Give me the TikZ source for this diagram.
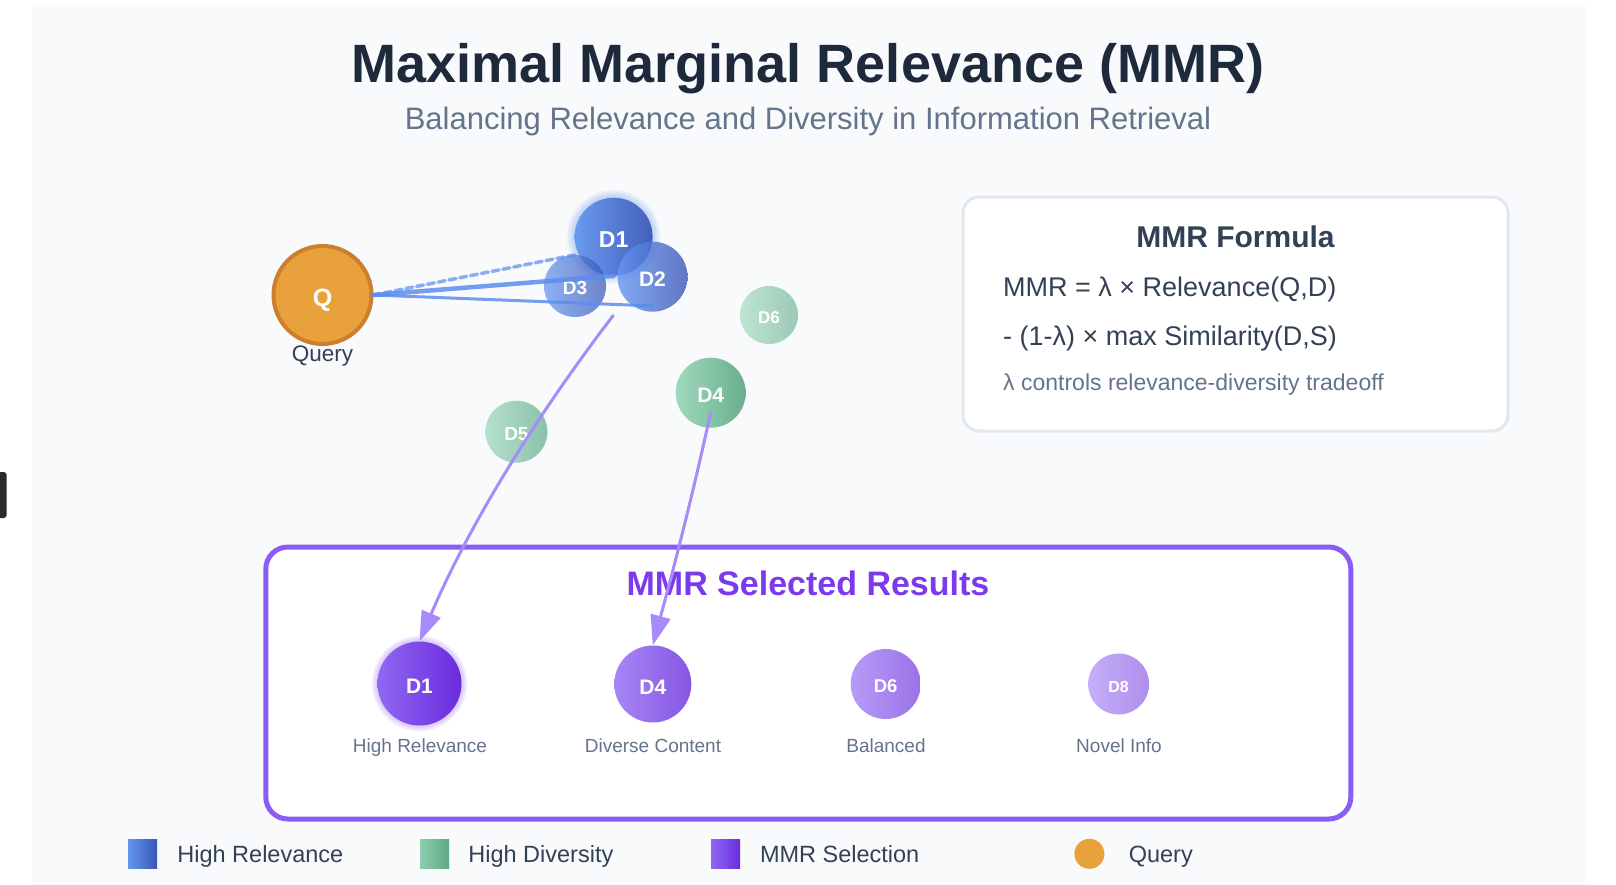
\documentclass[tikz,border=0pt]{standalone}
\usepackage{fontspec}
\setmainfont{Liberation Sans}
\usepackage{tikz}
\usetikzlibrary{arrows.meta,positioning,calc}
\definecolor{panelbg}{HTML}{F8FAFC}
\definecolor{inkdark}{HTML}{1E293B}
\definecolor{inkmid}{HTML}{334155}
\definecolor{inkgray}{HTML}{64748B}
\definecolor{relblueA}{HTML}{6496F0}
\definecolor{relblueB}{HTML}{3A56B8}
\definecolor{divgreenA}{HTML}{9AD6B8}
\definecolor{divgreenB}{HTML}{5DA986}
\definecolor{selpurpleA}{HTML}{9068F4}
\definecolor{selpurpleB}{HTML}{6A2BDC}
\definecolor{queryorange}{HTML}{E9A23B}
\definecolor{queryedge}{HTML}{CC7F2E}
\definecolor{arrowpurple}{HTML}{A78BFA}
\definecolor{boxpurple}{HTML}{8B5CF6}
\definecolor{titlepurple}{HTML}{7C3AED}
\definecolor{linkblue}{HTML}{5B8DEF}
\definecolor{cardedge}{HTML}{E2E8F0}
\definecolor{tabdark}{HTML}{2B2B2B}

\begin{document}
\begin{tikzpicture}[
  x=1pt, y=-1pt,
  doc/.style={circle,inner sep=0pt,text=white,text opacity=1,text height=20pt,text depth=0pt,font=\bfseries\fontsize{21}{24}\selectfont},
  small/.style={text height=17.5pt},
  rel/.style={doc,left color=relblueA,right color=relblueB},
  div/.style={doc,left color=divgreenA,right color=divgreenB},
  sel/.style={doc,left color=selpurpleA,right color=selpurpleB},
  txt/.style={inner sep=0pt,anchor=base},
  fline/.style={txt,anchor=base west,text=inkmid,font=\fontsize{27}{32}\selectfont},
  sellbl/.style={txt,text=inkgray,font=\fontsize{19}{23}\selectfont},
  swatch/.style={rectangle,inner sep=0pt,minimum size=29pt},
  legtext/.style={inner sep=0pt,anchor=west,text depth=0pt,text=inkmid,font=\fontsize{23.5}{28}\selectfont},
  link/.style={linkblue,line cap=round},
  pick/.style={arrowpurple,line width=3pt,-{Triangle[length=30pt,width=20pt]}}
]
\useasboundingbox (0,0) rectangle (1616,884);
\fill[white] (0,0) rectangle (1616,884);
\fill[panelbg] (31.5,4) rectangle (1585,882);
\fill[tabdark,rounded corners=3pt] (-6,472) rectangle (6.7,518);

\node[txt,text=inkdark,font=\bfseries\fontsize{54}{60}\selectfont] (title) at (808,82) {Maximal Marginal Relevance (MMR)};
\node[txt,text=inkgray,font=\fontsize{31}{37}\selectfont] (subtitle) at (808,129) {Balancing Relevance and Diversity in Information Retrieval};

\node[circle,inner sep=0pt,minimum size=98pt,line width=4pt,draw=queryedge,fill=queryorange,text=white,text height=23pt,text depth=0pt,font=\bfseries\fontsize{25}{29}\selectfont] (Q) at (322.5,295) {Q};
\node[inner sep=0pt,text=inkmid,font=\fontsize{22.5}{27}\selectfont,below=0pt of Q] (qlbl) {Query};

\coordinate (d1c) at (613.6,236.7);
\foreach \g in {1,...,8}
  \fill[relblueA,opacity=0.05] (d1c) circle[radius={(39+\g)*1pt}];
\node[rel,minimum size=78pt,fill opacity=0.93,text height=21.5pt,font=\bfseries\fontsize{23}{26}\selectfont] (D1) at (d1c) {D1};
\node[rel,small,minimum size=62pt,fill opacity=0.72,font=\bfseries\fontsize{19}{22}\selectfont] (D3) at (575,286) {D3};
\node[rel,minimum size=70pt,fill opacity=0.8] (D2) at (652.5,276.7) {D2};
\node[div,small,minimum size=58pt,fill opacity=0.6,font=\bfseries\fontsize{17}{20}\selectfont] (D6) at (769,315) {D6};
\node[div,minimum size=70pt,fill opacity=0.92] (D4) at (710.7,392.7) {D4};
\node[div,small,minimum size=62pt,fill opacity=0.7,font=\bfseries\fontsize{19}{22}\selectfont] (D5) at (516.4,431.7) {D5};

\draw[link,line width=4.5pt,opacity=0.85] (Q.east) -- (D1.south);
\draw[link,line width=3pt,opacity=0.85] (Q.east) -- ([yshift=6pt]D2.south);
\draw[link,line width=3.5pt,dash pattern=on 7pt off 4pt,opacity=0.7] (Q.east) -- (D3.north);

\node[draw=cardedge,line width=3pt,fill=white,rounded corners=16pt,minimum width=545pt,minimum height=234pt] (formula) at (1235.5,314) {};
\node[txt,text=inkmid,font=\bfseries\fontsize{30}{36}\selectfont] (ftitle) at (1235.5,247) {MMR Formula};
\node[fline] (f1) at (1003,296) {MMR = λ × Relevance(Q,D)};
\node[fline] (f2) at (1003,345) {- (1-λ) × max Similarity(D,S)};
\node[fline,text=inkgray,font=\fontsize{23}{28}\selectfont] (f3) at (1003,390) {λ controls relevance-diversity tradeoff};

\node[draw=boxpurple,line width=5pt,fill=white,rounded corners=22pt,minimum width=1085pt,minimum height=272pt] (results) at (808.3,683) {};
\node[txt,text=titlepurple,font=\bfseries\fontsize{34}{40}\selectfont] (rtitle) at (808,595) {MMR Selected Results};

\coordinate (s1c) at (419.5,683.5);
\foreach \g in {1,...,6}
  \fill[boxpurple,opacity=0.06] (s1c) circle[radius={(42+\g)*1pt}];
\node[sel,minimum size=84pt] (S1) at (s1c) {D1};
\node[sel,minimum size=77pt,fill opacity=0.8] (S4) at (652.8,684) {D4};
\node[sel,small,minimum size=70pt,fill opacity=0.66,font=\bfseries\fontsize{18.5}{22}\selectfont] (S6) at (885.7,684) {D6};
\node[sel,small,minimum size=61pt,fill opacity=0.53,text height=16.5pt,font=\bfseries\fontsize{16}{19}\selectfont] (S8) at (1118.6,684) {D8};
\node[sellbl] (s1lbl) at (420,752) {High Relevance};
\node[sellbl] (s4lbl) at (653,752) {Diverse Content};
\node[sellbl] (s6lbl) at (886,752) {Balanced};
\node[sellbl] (s8lbl) at (1119,752) {Novel Info};

\coordinate (p1) at (613.6,315);
\coordinate (p4) at (710.7,412);
\draw[pick] (p1) .. controls (530,424) and (466,532) .. (S1.north);
\draw[pick] (p4) .. controls (694,490) and (674,567) .. (S4.north);

\node[swatch,left color=relblueA,right color=relblueB] (lg1) at (142.5,853.8) {};
\node[legtext,right=20pt of lg1] (lt1) {High Relevance};
\node[swatch,left color=divgreenA!80!divgreenB,right color=divgreenB] (lg2) at (434.5,853.8) {};
\node[legtext,right=19pt of lg2] (lt2) {High Diversity};
\node[swatch,left color=selpurpleA,right color=selpurpleB] (lg3) at (725.6,853.8) {};
\node[legtext,right=19.5pt of lg3] (lt3) {MMR Selection};
\node[circle,inner sep=0pt,minimum size=30pt,fill=queryorange] (lg4) at (1089.4,853.8) {};
\node[legtext,right=24pt of lg4] (lt4) {Query};
\end{tikzpicture}
\end{document}
